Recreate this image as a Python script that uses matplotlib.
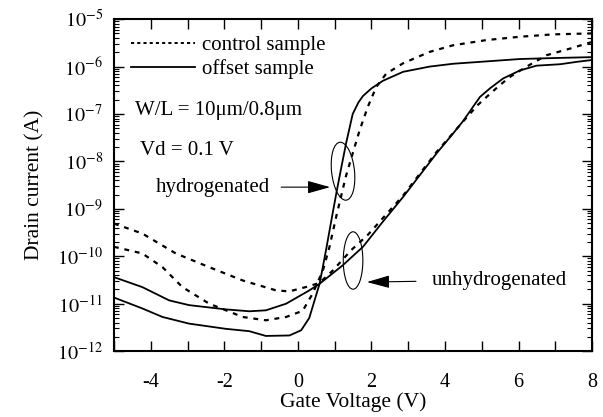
import numpy as np
import matplotlib
matplotlib.use('Agg')
import matplotlib.pyplot as plt
from matplotlib.ticker import MultipleLocator, LogLocator, FuncFormatter, NullFormatter
from matplotlib.lines import Line2D
from matplotlib.patches import Ellipse

plt.rcParams['font.family'] = ['Liberation Serif', 'DejaVu Serif']
plt.rcParams['mathtext.fontset'] = 'stix'

# gate voltage (V) and log10 drain current (A)
# offset sample, hydrogenated (solid, steep)
x_off_h = [-5, -4.23, -3.68, -2.96, -1.96, -1.32, -0.87, -0.23, 0.09, 0.31, 0.59, 0.77,
           0.92, 1.05, 1.2, 1.31, 1.49, 1.65, 1.77, 2.0, 2.31, 2.86, 3.58, 4.22, 5.13,
           6.04, 6.94, 8.0]
y_off_h = [-10.87, -11.10, -11.28, -11.42, -11.53, -11.58, -11.68, -11.67, -11.56, -11.30,
           -10.58, -9.85, -9.20, -8.65, -8.05, -7.62, -7.00, -6.75, -6.62, -6.46, -6.30,
           -6.11, -6.00, -5.94, -5.89, -5.84, -5.82, -5.80]

# control sample, hydrogenated (dotted, steep)
x_ctl_h = [-5, -4.23, -3.68, -3.14, -2.41, -1.5, -0.87, -0.32, 0.13, 0.4, 0.68, 0.86,
           1.04, 1.17, 1.31, 1.49, 1.68, 1.9, 2.13, 2.4, 2.86, 3.58, 4.22, 5.13, 6.04,
           6.94, 8.0]
y_ctl_h = [-9.80, -9.94, -10.23, -10.65, -11.00, -11.28, -11.35, -11.28, -11.15, -10.79,
           -10.30, -9.80, -9.17, -8.75, -8.30, -7.83, -7.34, -6.85, -6.43, -6.15, -5.93,
           -5.69, -5.55, -5.44, -5.37, -5.32, -5.30]

# offset sample, unhydrogenated (solid, gradual)
x_off_u = [-5, -4.23, -3.5, -2.96, -1.96, -1.32, -0.87, -0.32, 0.31, 0.59, 1.22, 1.77,
           2.3, 2.86, 3.77, 4.22, 4.49, 4.76, 4.95, 5.22, 5.58, 6.04, 6.49, 7.13, 7.58, 8.0]
y_off_u = [-10.44, -10.65, -10.93, -11.03, -11.12, -11.16, -11.14, -11.00, -10.72, -10.58,
           -10.19, -9.80, -9.28, -8.75, -7.83, -7.41, -7.15, -6.85, -6.64, -6.46, -6.25,
           -6.08, -5.98, -5.95, -5.90, -5.86]

# control sample, unhydrogenated (dotted, gradual)
x_ctl_u = [-5, -4.23, -3.32, -2.41, -1.5, -0.59, -0.23, 0.31, 0.59, 0.95, 1.45, 1.9,
           2.86, 3.77, 4.22, 4.5, 4.89, 5.13, 5.49, 5.8, 6.22, 6.76, 7.4, 8.0]
y_ctl_u = [-9.31, -9.52, -9.94, -10.23, -10.51, -10.72, -10.74, -10.63, -10.56, -10.30,
           -9.87, -9.55, -8.72, -7.80, -7.40, -7.15, -6.81, -6.64, -6.39, -6.20, -6.00,
           -5.76, -5.62, -5.48]

fig = plt.figure(figsize=(6.03, 4.17), dpi=100)
ax = fig.add_axes([0.189, 0.158, 0.793, 0.796])

dot = (0, (2.2, 2.6))
ax.plot(x_off_h, 10.0 ** np.array(y_off_h), color='black', lw=1.3)
ax.plot(x_off_u, 10.0 ** np.array(y_off_u), color='black', lw=1.3)
ax.plot(x_ctl_h, 10.0 ** np.array(y_ctl_h), color='black', lw=1.6, linestyle=dot)
ax.plot(x_ctl_u, 10.0 ** np.array(y_ctl_u), color='black', lw=1.6, linestyle=dot)

ax.set_yscale('log')
ax.set_xlim(-5, 8)
ax.set_ylim(1e-12, 1e-5)

ax.xaxis.set_major_locator(MultipleLocator(2))
ax.xaxis.set_minor_locator(MultipleLocator(1))
ax.yaxis.set_major_locator(LogLocator(base=10, numticks=20))
ax.yaxis.set_minor_locator(LogLocator(base=10, subs=np.arange(2, 10), numticks=20))
ax.yaxis.set_minor_formatter(NullFormatter())
ax.yaxis.set_major_formatter(FuncFormatter(lambda v, p: r'$10^{%d}$' % int(round(np.log10(v)))))
ax.xaxis.set_major_formatter(FuncFormatter(lambda v, p: '%d' % v))

ax.tick_params(axis='x', which='both', direction='in', top=True, length=7, width=1,
               labelsize=14.5, pad=16)
ax.tick_params(axis='y', which='major', direction='in', right=True, length=7, width=1,
               labelsize=14.5, pad=8)
ax.tick_params(axis='y', which='minor', direction='in', right=True, length=3.5, width=0.8)
for s in ax.spines.values():
    s.set_linewidth(1.5)

ax.set_xlabel('Gate Voltage (V)', fontsize=15.5, labelpad=0)
ax.set_ylabel('Drain current (A)', fontsize=15.5, labelpad=9)

handles = [Line2D([], [], color='black', lw=1.4, linestyle=(0, (1.6, 1.6))),
           Line2D([], [], color='black', lw=1.3)]
ax.legend(handles, ['control sample', 'offset sample'], loc='upper left',
          bbox_to_anchor=(0.035, 0.95), frameon=False, fontsize=15, handlelength=3.1,
          handletextpad=0.3, labelspacing=0.2, borderpad=0, borderaxespad=0)

ax.text(0.044, 0.726, 'W/L = 10\u03bcm/0.8\u03bcm', transform=ax.transAxes, fontsize=15,
        va='center', ha='left')
ax.text(0.054, 0.605, 'Vd = 0.1 V', transform=ax.transAxes, fontsize=15,
        va='center', ha='left')

arrow = dict(arrowstyle='-|>,head_length=1.0,head_width=0.28', color='black', lw=0.8,
             mutation_scale=14, shrinkA=6, shrinkB=0)
ax.annotate('hydrogenated', xy=(0.452, 0.494), xytext=(0.207, 0.494),
            xycoords='axes fraction', textcoords='axes fraction', fontsize=15,
            ha='center', va='center', arrowprops=arrow)
ax.annotate('unhydrogenated', xy=(0.529, 0.208), xytext=(0.805, 0.214),
            xycoords='axes fraction', textcoords='axes fraction', fontsize=15,
            ha='center', va='center', arrowprops=dict(arrow, shrinkA=9))

ax.add_patch(Ellipse((0.479, 0.542), 0.048, 0.175, angle=4, transform=ax.transAxes,
                     fill=False, edgecolor='black', lw=0.8))
ax.add_patch(Ellipse((0.500, 0.273), 0.041, 0.173, angle=0, transform=ax.transAxes,
                     fill=False, edgecolor='black', lw=0.8))

fig.savefig('out.png', dpi=100)
